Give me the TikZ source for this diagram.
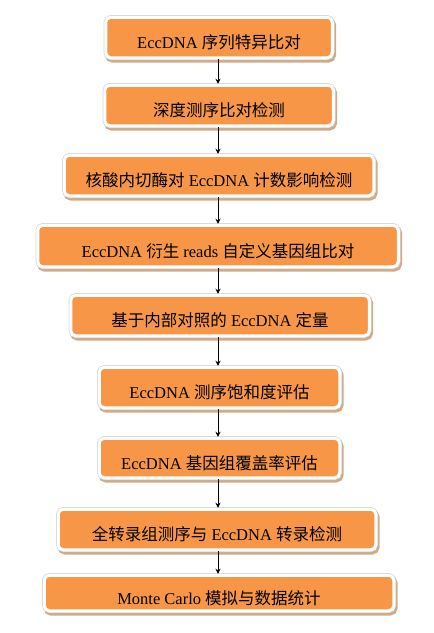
\documentclass[tikz,border=0pt]{standalone}
\usepackage{fontspec}
\setmainfont{Liberation Serif}
\newfontfamily\cjk{Noto Sans CJK SC}
\usetikzlibrary{arrows.meta}
\definecolor{boxorange}{RGB}{247,150,70}
\definecolor{boxshadow}{RGB}{208,170,135}
\definecolor{boxrim}{RGB}{214,214,214}
\newcommand{\zh}[1]{{\cjk #1}}
\tikzset{
    stepbox/.style={rectangle, rounded corners=5pt, fill=boxorange, draw=white, line width=3pt,
        preaction={draw=boxshadow, line width=4.5pt, transform canvas={xshift=1.5pt, yshift=-2.5pt}},
        preaction={draw=boxrim, line width=4.5pt},
        minimum height=40.5pt, text height=22pt, text depth=0pt, inner sep=0pt,
        font=\fontsize{16.5}{20}\selectfont},
    edge/.style={draw, line width=0.8pt, -{Stealth[length=5pt, width=5pt]}}
}

\begin{document}
\begin{tikzpicture}[x=1pt, y=-1pt]
    \useasboundingbox (0,0) rectangle (434,633);
    % Nodes
    \node[stepbox, minimum width=226.5pt] (seq) at (219,37.5) {EccDNA \zh{序列特异比对}};
    \node[stepbox, minimum width=228.5pt] (depth) at (219,105.5) {\zh{深度测序比对检测}};
    \node[stepbox, minimum width=309.5pt] (nuc) at (219,175.5) {\zh{核酸内切酶对} EccDNA \zh{计数影响检测}};
    \node[stepbox, minimum width=360.5pt, minimum height=41.5pt] (reads) at (218,246) {EccDNA \zh{衍生} reads \zh{自定义基因组比对}};
    \node[stepbox, minimum width=298.5pt] (quant) at (220,315.5) {\zh{基于内部对照的} EccDNA \zh{定量}};
    \node[stepbox, minimum width=240.5pt] (sat) at (219.5,387.5) {EccDNA \zh{测序饱和度评估}};
    \node[stepbox, minimum width=240.5pt, minimum height=39.5pt] (cov) at (219.5,458) {EccDNA \zh{基因组覆盖率评估}};
    \node[stepbox, minimum width=317.5pt] (rna) at (217,529.5) {\zh{全转录组测序与} EccDNA \zh{转录检测}};
    \node[stepbox, minimum width=349.5pt, minimum height=35.5pt] (mc) at (219,593) {Monte Carlo \zh{模拟与数据统计}};

    % edges
    \draw[edge] (seq.south -| 218,0) -- (depth.north -| 218,0);
    \draw[edge] (depth.south -| 218,0) -- (nuc.north -| 218,0);
    \draw[edge] (nuc.south -| 218,0) -- (reads.north -| 218,0);
    \draw[edge] (reads.south -| 218,0) -- (quant.north -| 218,0);
    \draw[edge] (quant.south -| 218,0) -- (sat.north -| 218,0);
    \draw[edge] (sat.south -| 218,0) -- (cov.north -| 218,0);
    \draw[edge] (cov.south -| 218,0) -- (rna.north -| 218,0);
    \draw[edge] (rna.south -| 218,0) -- (mc.north -| 218,0);
\end{tikzpicture}
\end{document}
